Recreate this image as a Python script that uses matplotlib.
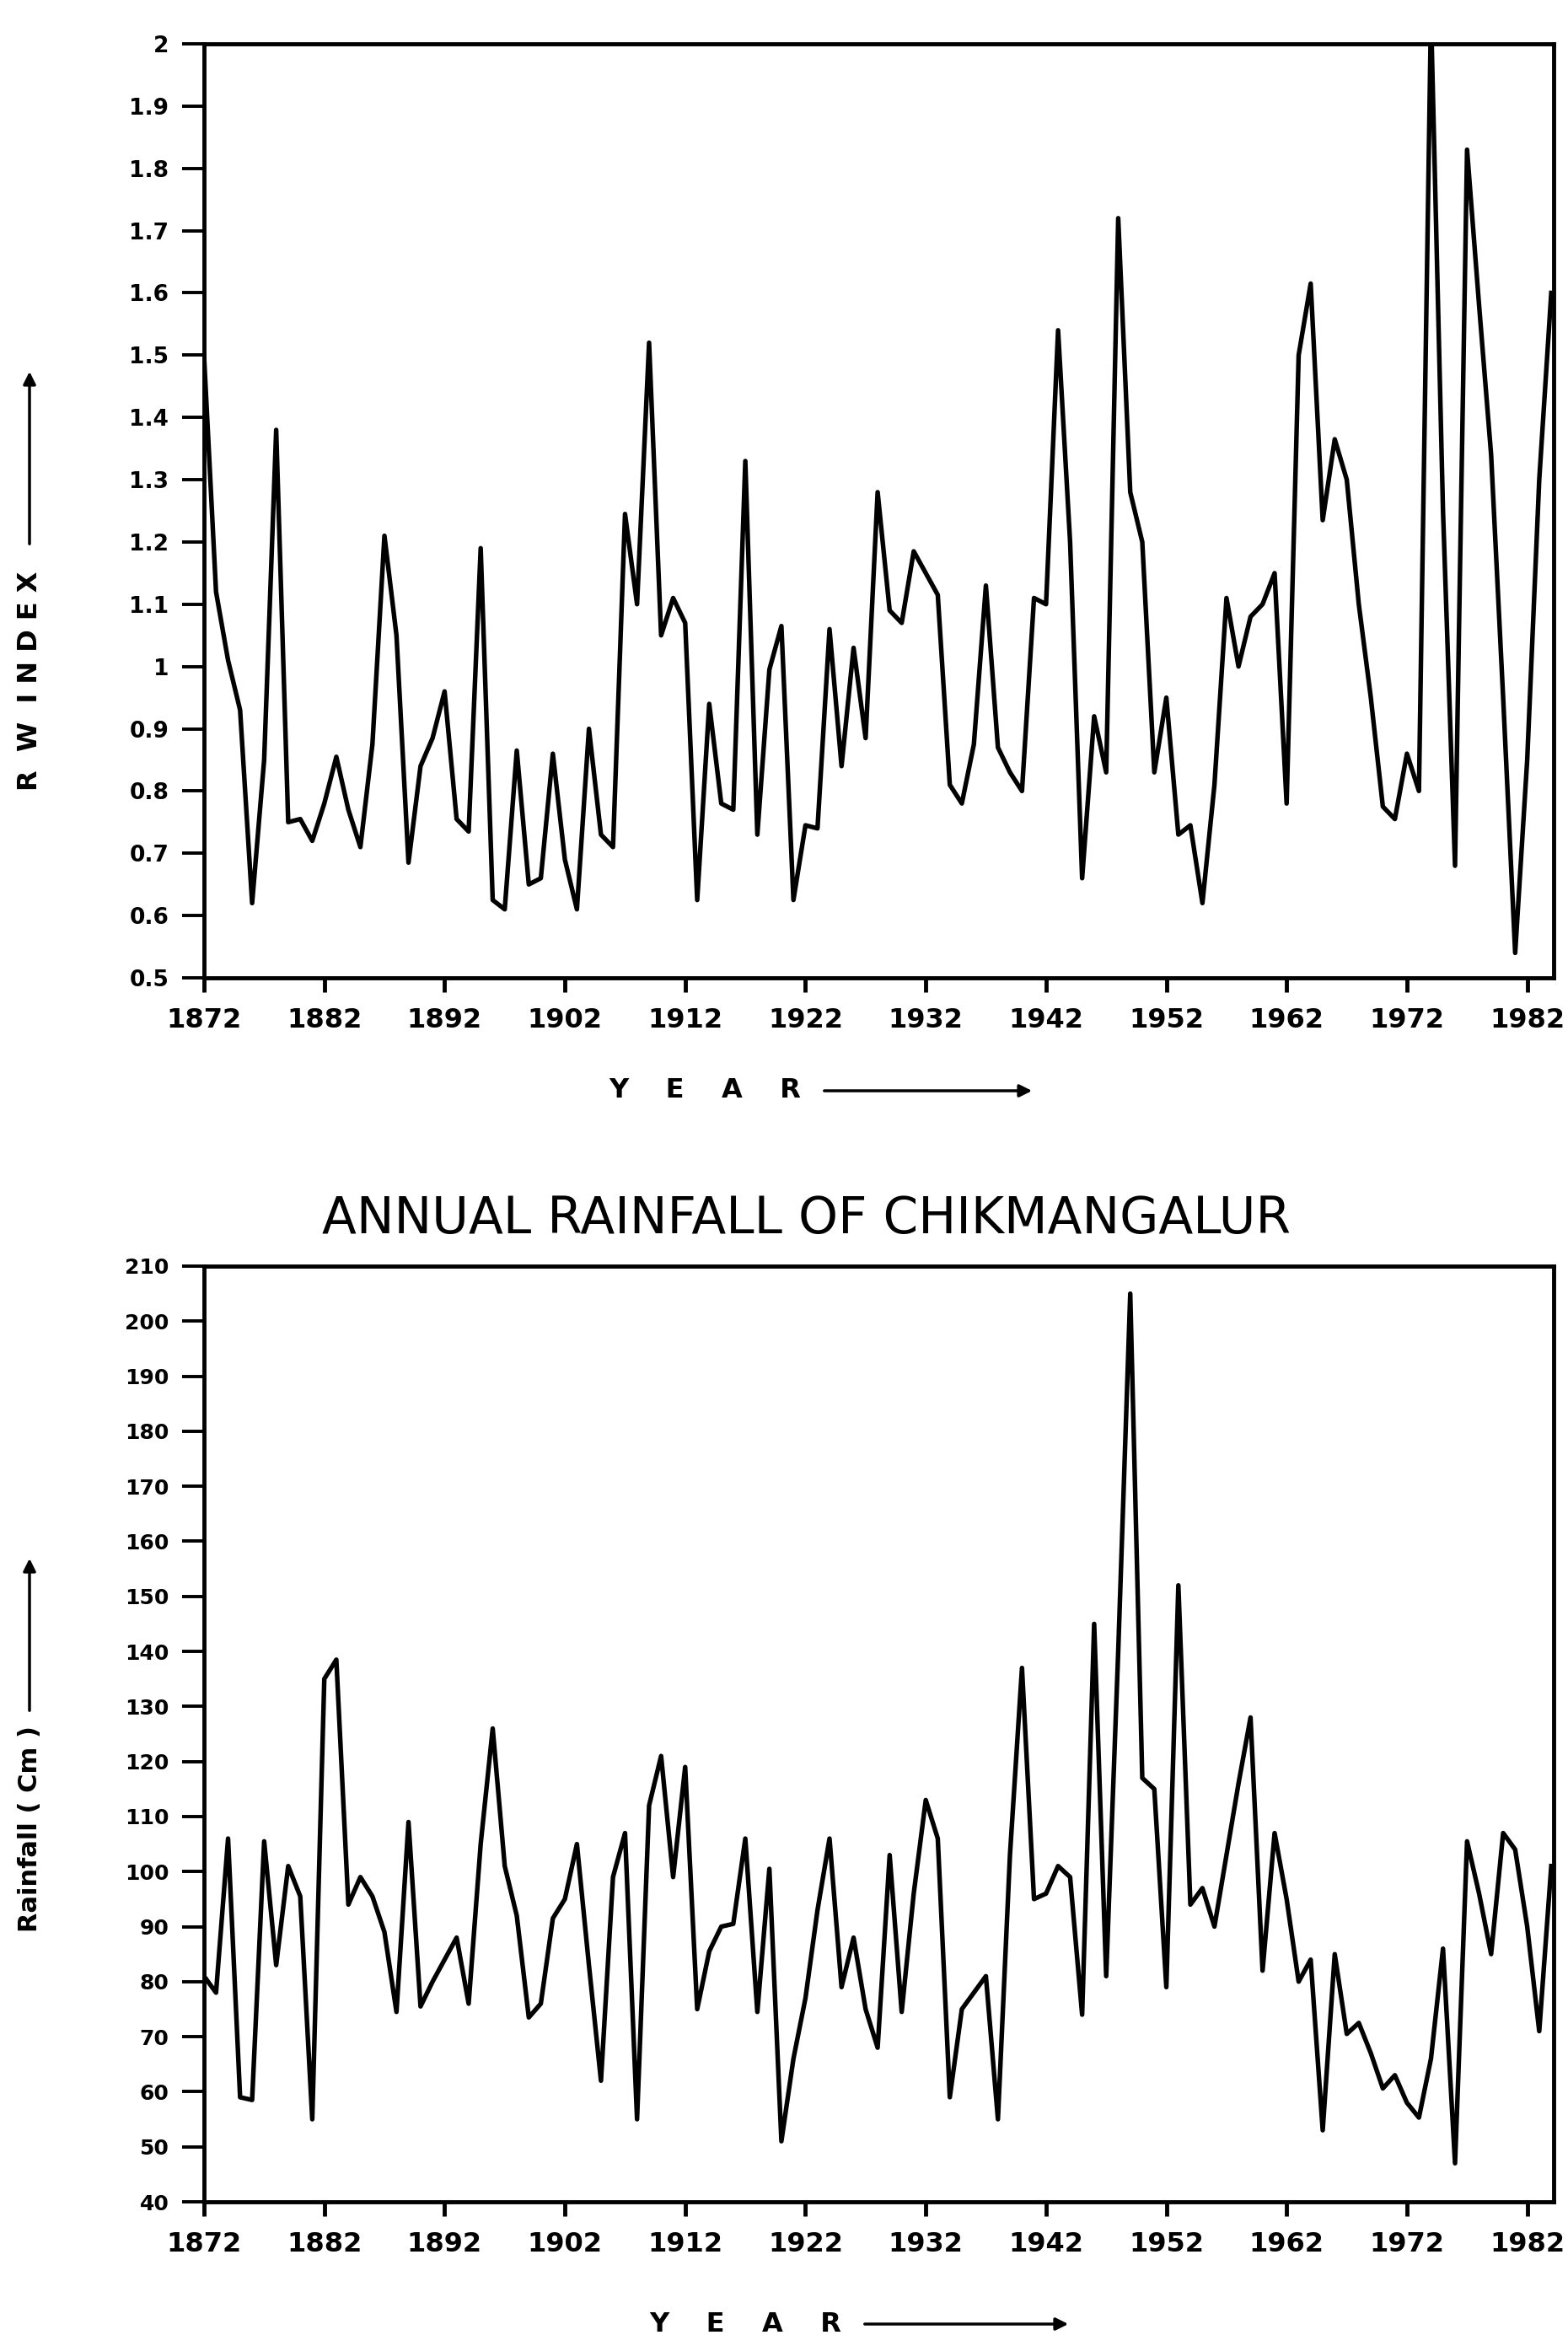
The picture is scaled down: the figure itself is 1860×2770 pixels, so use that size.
import matplotlib
matplotlib.use("Agg")
import matplotlib.pyplot as plt
import numpy as np

# ---------------- data ----------------
years = np.arange(1872, 1985)

rw_index = [
    1.50, 1.12, 1.01, 0.93, 0.62, 0.85, 1.38, 0.75, 0.755, 0.72,      # 1872-1881
    0.78, 0.855, 0.77, 0.71, 0.875, 1.21, 1.05, 0.685, 0.84, 0.885,   # 1882-1891
    0.96, 0.755, 0.735, 1.19, 0.625, 0.61, 0.865, 0.65, 0.66, 0.86,   # 1892-1901
    0.69, 0.61, 0.90, 0.73, 0.71, 1.245, 1.10, 1.52, 1.05, 1.11,      # 1902-1911
    1.07, 0.625, 0.94, 0.78, 0.77, 1.33, 0.73, 0.995, 1.065, 0.625,   # 1912-1921
    0.745, 0.74, 1.06, 0.84, 1.03, 0.885, 1.28, 1.09, 1.07, 1.185,    # 1922-1931
    1.15, 1.115, 0.81, 0.78, 0.875, 1.13, 0.87, 0.83, 0.80, 1.11,     # 1932-1941
    1.10, 1.54, 1.20, 0.66, 0.92, 0.83, 1.72, 1.28, 1.20, 0.83,       # 1942-1951
    0.95, 0.73, 0.745, 0.62, 0.81, 1.11, 1.00, 1.08, 1.10, 1.15,      # 1952-1961
    0.78, 1.50, 1.615, 1.235, 1.365, 1.30, 1.10, 0.95, 0.775, 0.755,  # 1962-1971
    0.86, 0.80, 2.05, 1.25, 0.68, 1.83, 1.58, 1.34, 0.95, 0.54,       # 1972-1981
    0.85, 1.30, 1.60,                                                 # 1982-1984
]

rainfall = [
    81, 78, 106, 59, 58.5, 105.5, 83, 101, 95.5, 55,                  # 1872-1881
    135, 138.5, 94, 99, 95.5, 89, 74.5, 109, 75.5, 80,                # 1882-1891
    84, 88, 76, 105, 126, 101, 92, 73.5, 76, 91.5,                    # 1892-1901
    95, 105, 83, 62, 99, 107, 55, 112, 121, 99,                       # 1902-1911
    119, 75, 85.5, 90, 90.5, 106, 74.5, 100.5, 51, 66,                # 1912-1921
    77, 93, 106, 79, 88, 75, 68, 103, 74.5, 96,                       # 1922-1931
    113, 106, 59, 75, 78, 81, 55, 103, 137, 95,                       # 1932-1941
    96, 101, 99, 74, 145, 81, 140, 205, 117, 115,                     # 1942-1951
    79, 152, 94, 97, 90, 103, 116, 128, 82, 107,                      # 1952-1961
    95, 80, 84, 53, 85, 70.5, 72.5, 67, 60.6, 63,                     # 1962-1971
    58, 55.3, 66, 86, 47, 105.5, 96, 85, 107, 104,                    # 1972-1981
    90, 71, 101,                                                      # 1982-1984
]

year_ticks = [1872, 1882, 1892, 1902, 1912, 1922, 1932, 1942, 1952, 1962, 1972, 1982]
year_ticklabels = ["1872", "1882", "1892", "1902", "1912", "1922",
                   "1932", "1942", "1952", "1962", "1972", "1982"]

rw_ticks = [0.5, 0.6, 0.7, 0.8, 0.9, 1.0, 1.1, 1.2, 1.3, 1.4, 1.5, 1.6, 1.7, 1.8, 1.9, 2.0]
rw_ticklabels = ["0.5", "0.6", "0.7", "0.8", "0.9", "1", "1.1", "1.2", "1.3",
                 "1.4", "1.5", "1.6", "1.7", "1.8", "1.9", "2"]

rain_ticks = [40, 50, 60, 70, 80, 90, 100, 110, 120, 130, 140, 150, 160, 170, 180, 190, 200, 210]
rain_ticklabels = [str(v) for v in rain_ticks]

title_text = "ANNUAL RAINFALL OF CHIKMANGALUR"
rw_ylabel = "R  W  I N D E X"
rain_ylabel = "Rainfall ( Cm )"
xlabel_text = "Y    E    A    R"

# ---------------- figure ----------------
W, H = 1860, 2770
plt.rcParams['font.family'] = ['DejaVu Sans']
fig = plt.figure(figsize=(W / 100, H / 100), dpi=100)
fig.patch.set_facecolor('white')


def rect(l, t, r, b):
    return [l / W, 1 - b / H, (r - l) / W, (b - t) / H]


ax1 = fig.add_axes(rect(242, 52, 1843, 1160))
ax2 = fig.add_axes(rect(242, 1502, 1843, 2612))

for ax, series in ((ax1, rw_index), (ax2, rainfall)):
    ax.plot(years, series, color='black', lw=3.9, solid_joinstyle='round')
    ax.set_xlim(1872, 1984.2)
    ax.set_xticks(year_ticks)
    ax.set_xticklabels(year_ticklabels, fontsize=23, fontweight='bold')
    for s in ax.spines.values():
        s.set_linewidth(3.5)
    ax.tick_params(axis='x', direction='out', length=12, width=3.5, pad=13)
    ax.tick_params(axis='y', direction='out', length=19, width=2.8, pad=11)

ax1.set_ylim(0.5, 2.0)
ax1.set_yticks(rw_ticks)
ax1.set_yticklabels(rw_ticklabels, fontsize=19, fontweight='bold')

ax2.set_ylim(40, 210)
ax2.set_yticks(rain_ticks)
ax2.set_yticklabels(rain_ticklabels, fontsize=18, fontweight='bold')

# title
fig.text(956 / W, 1 - 1446 / H, title_text, ha='center', va='center', fontsize=43)

# y labels with arrows
fig.text(35 / W, 1 - 938 / H, rw_ylabel, rotation=90, ha='center', va='bottom',
         fontsize=23, fontweight='bold')
fig.text(35 / W, 1 - 2292 / H, rain_ylabel, rotation=90, ha='center', va='bottom',
         fontsize=22, fontweight='bold')

arrow_kw = dict(arrowstyle='-|>', lw=2.5, color='black', mutation_scale=22)
ax1.annotate('', xy=(35, H - 438), xytext=(35, H - 648), xycoords='figure pixels',
             textcoords='figure pixels', arrowprops=arrow_kw)
ax2.annotate('', xy=(35, H - 1846), xytext=(35, H - 2032), xycoords='figure pixels',
             textcoords='figure pixels', arrowprops=arrow_kw)

# x labels with arrows
fig.text(722 / W, 1 - 1294 / H, xlabel_text, ha='left', va='center',
         fontsize=23, fontweight='bold')
fig.text(770 / W, 1 - 2757 / H, xlabel_text, ha='left', va='center',
         fontsize=23, fontweight='bold')
ax1.annotate('', xy=(1227, H - 1294), xytext=(975, H - 1294), xycoords='figure pixels',
             textcoords='figure pixels', arrowprops=arrow_kw)
ax2.annotate('', xy=(1270, H - 2757), xytext=(1023, H - 2757), xycoords='figure pixels',
             textcoords='figure pixels', arrowprops=arrow_kw)

fig.savefig('out.png', dpi=100)
